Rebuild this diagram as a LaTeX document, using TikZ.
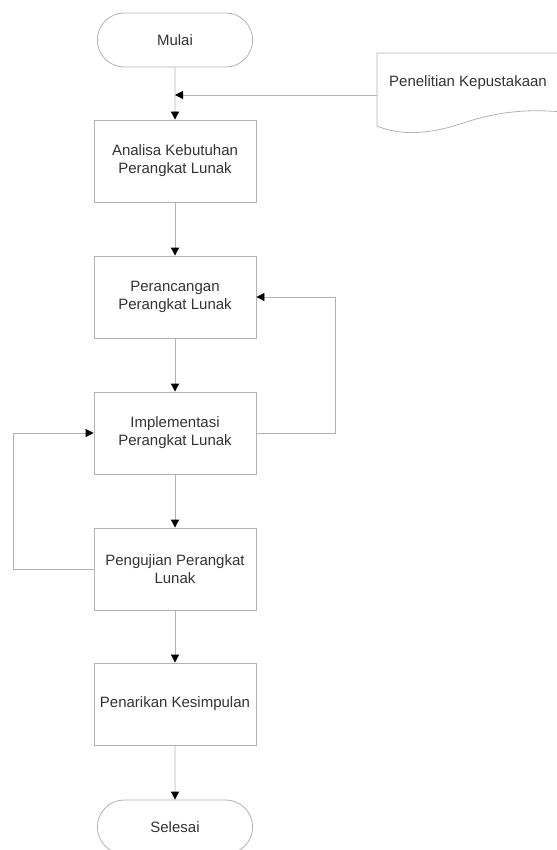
\documentclass[tikz,border=0pt]{standalone}
\usepackage{fontspec}
\setmainfont{Liberation Sans}
\usetikzlibrary{arrows.meta,shapes.misc}

\begin{document}
\begin{tikzpicture}[x=1pt, y=-1pt,
	garis/.style={draw=black!30, line width=0.8pt},
	flow/.style={garis, -{Triangle[length=8pt,width=8pt,black]}},
	proses/.style={rectangle, garis, minimum width=162pt, minimum height=82pt,
		align=center, text=black!80, font=\fontsize{15}{18}\selectfont},
	terminal/.style={proses, rounded rectangle, minimum height=54pt}]

\useasboundingbox (0,0) rectangle (556,850);

\node[terminal] (mulai)    at (175,40)  {Mulai};
\node[proses] (analisa)    at (175,161) {Analisa Kebutuhan\\Perangkat Lunak};
\node[proses] (rancang)    at (175,297) {Perancangan\\Perangkat Lunak};
\node[proses] (implementasi) at (175,433) {Implementasi\\Perangkat Lunak};
\node[proses] (uji)        at (175,569) {Pengujian Perangkat\\Lunak};
\node[proses] (simpulan)   at (175,704) {Penarikan Kesimpulan};
\node[terminal] (selesai)  at (175,827) {Selesai};

% dokumen kepustakaan
\draw[garis] (377,53) -- (562,53) -- (562,112)
	.. controls (520,108) and (490,114) .. (460,124)
	.. controls (430,134) and (400,136) .. (377,126) -- cycle;
\node[text=black!80, font=\fontsize{15}{18}\selectfont] (pustaka) at (468,83) {Penelitian Kepustakaan};
\coordinate (pustakakiri) at (377,95);
\coordinate (gabung) at (175,95);

\draw[flow] (mulai) -- (analisa);
\draw[flow] (pustakakiri) -- (gabung);
\foreach \a/\b in {analisa/rancang, rancang/implementasi, implementasi/uji,
	uji/simpulan, simpulan/selesai}
	\draw[flow] (\a) -- (\b);

% umpan balik
\draw[flow] (implementasi.east) -- (335,433) |- (rancang.east);
\draw[flow] (uji.west) -- (13,569) |- (implementasi.west);
\end{tikzpicture}
\end{document}
